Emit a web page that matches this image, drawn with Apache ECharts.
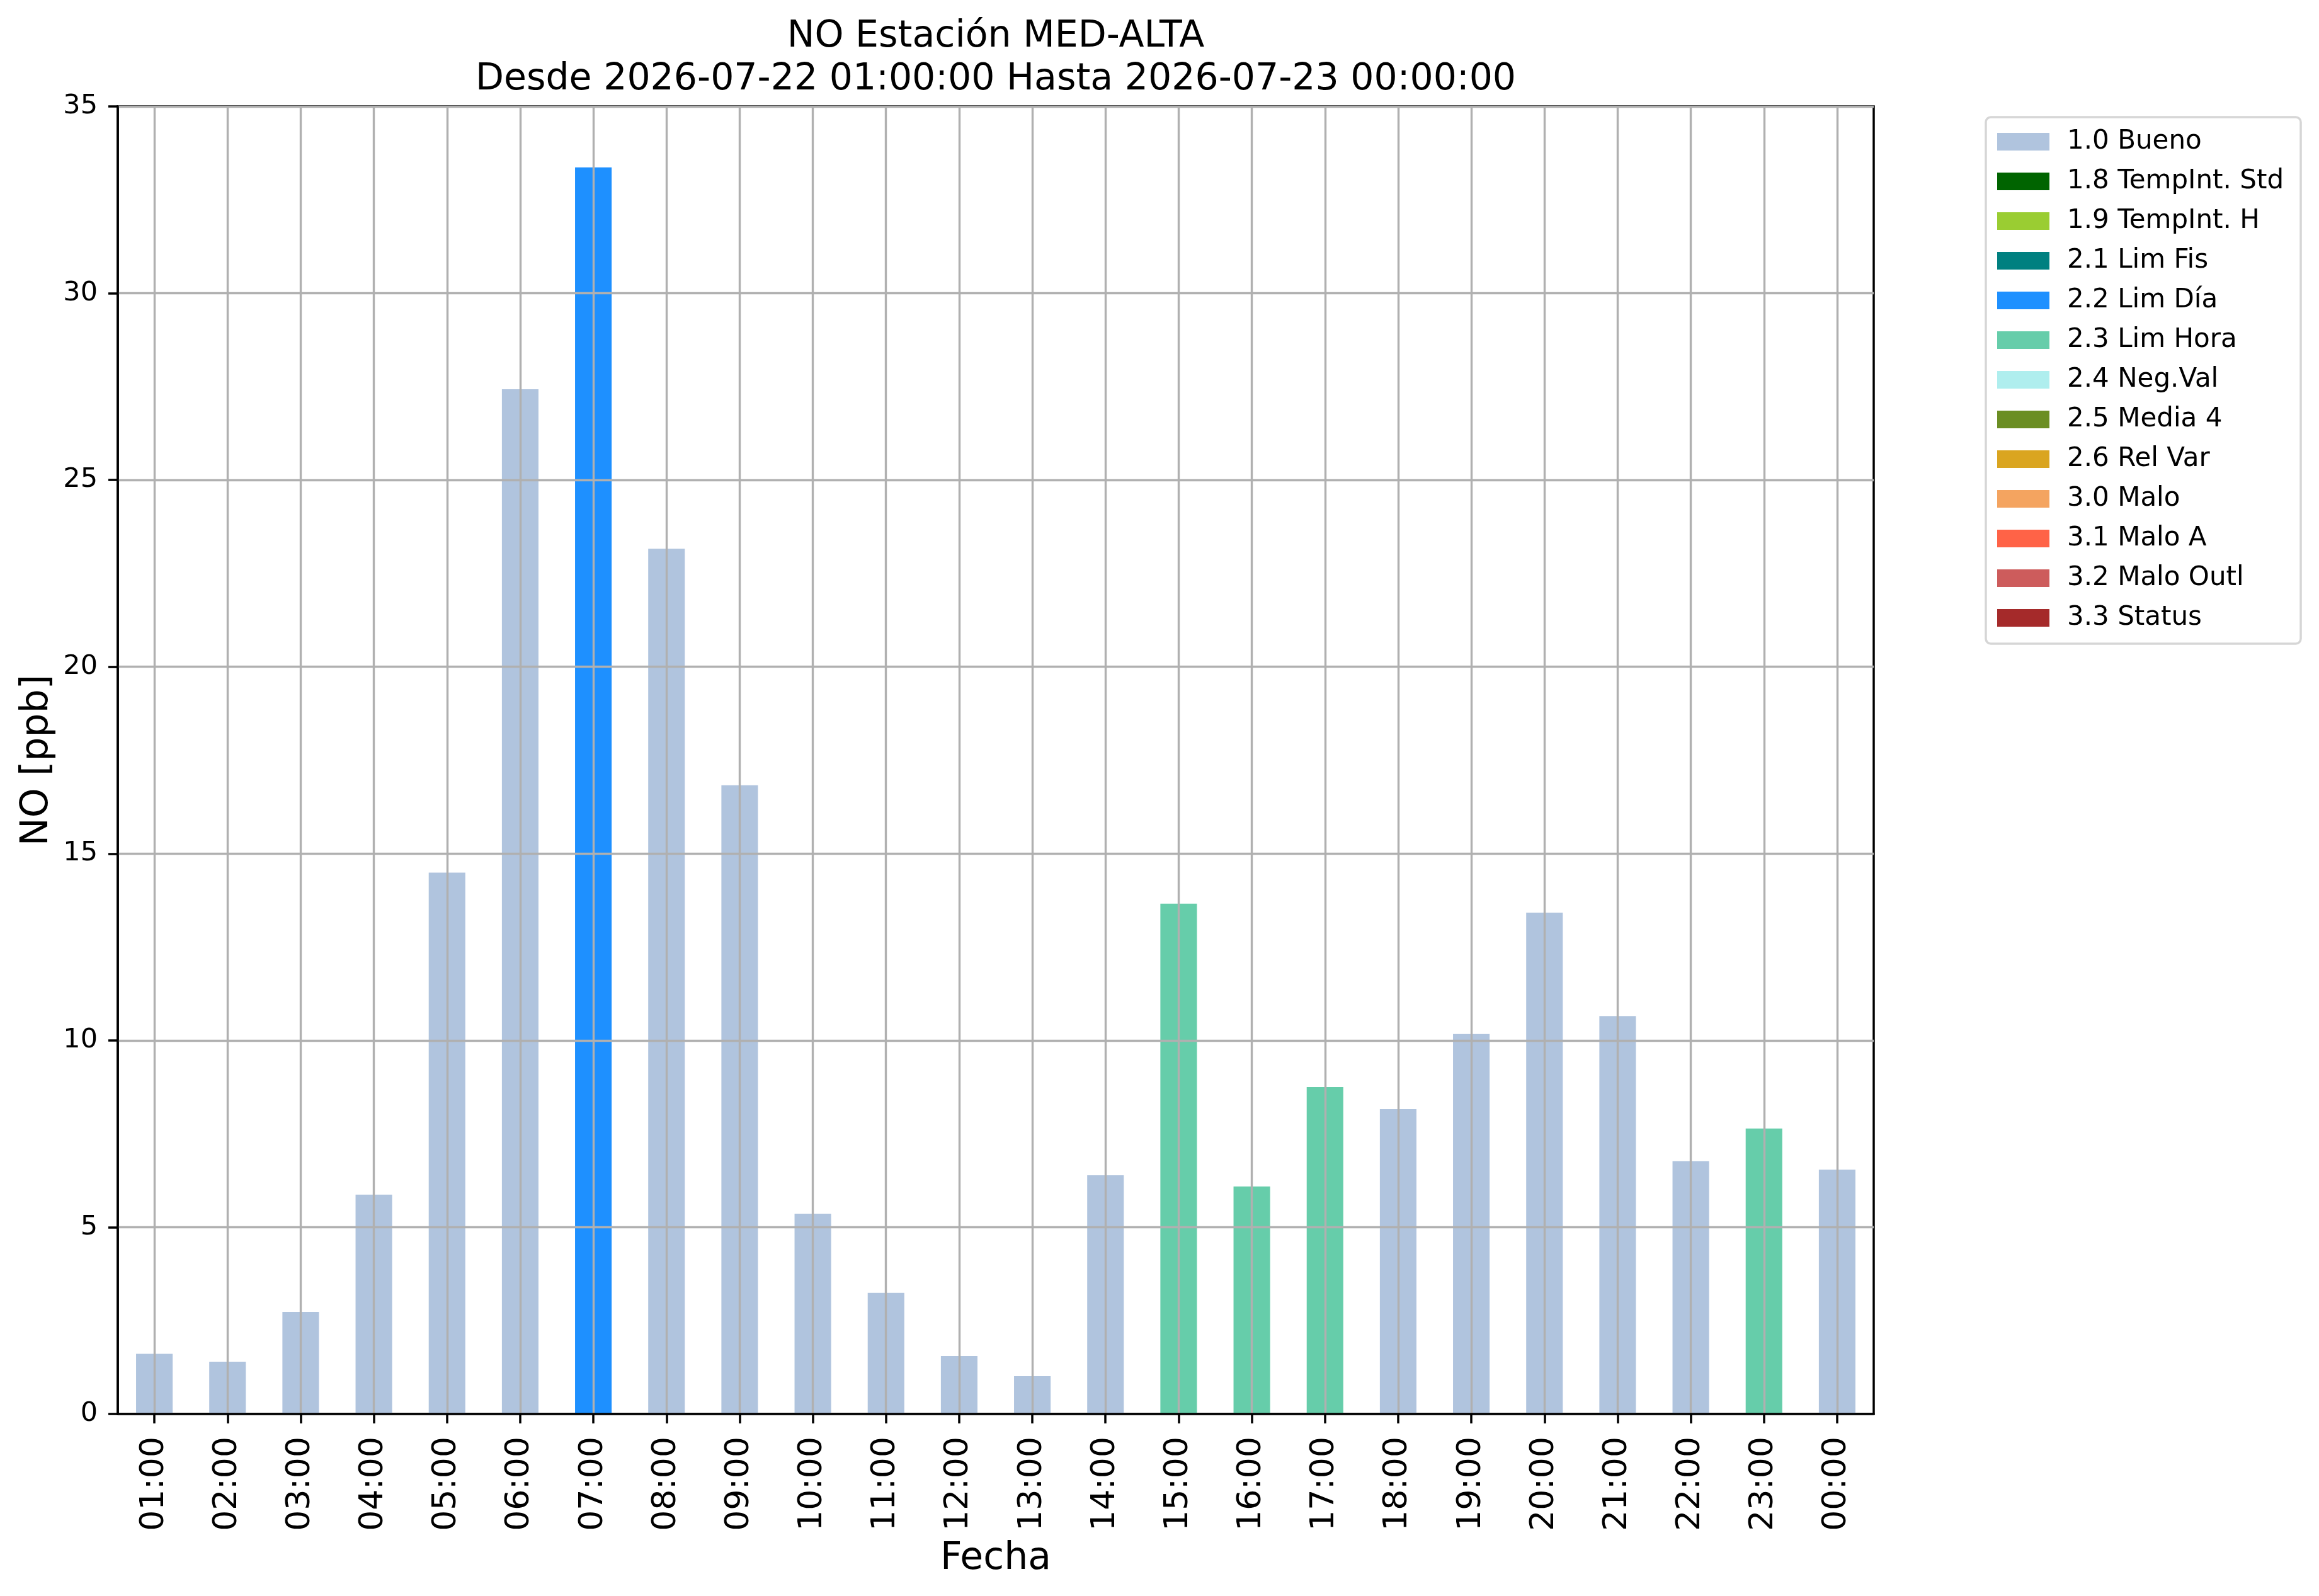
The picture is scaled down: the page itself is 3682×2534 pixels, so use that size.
<!DOCTYPE html>
<html>
<head>
<meta charset="utf-8">
<script src="https://cdn.jsdelivr.net/npm/echarts@6/dist/echarts.min.js"></script>
<style>
html,body{margin:0;padding:0;background:#fff;}
#chart{width:3682px;height:2534px;}
</style>
</head>
<body>
<div id="chart"></div>
<script>
const categories = ['01:00','02:00','03:00','04:00','05:00','06:00','07:00','08:00','09:00','10:00','11:00','12:00','13:00','14:00','15:00','16:00','17:00','18:00','19:00','20:00','21:00','22:00','23:00','00:00'];
const values = [1.61,1.40,2.73,5.87,14.49,27.43,33.37,23.16,16.83,5.36,3.24,1.55,1.01,6.39,13.66,6.09,8.75,8.16,10.17,13.42,10.65,6.77,7.64,6.54];
const flags = ['1.0 Bueno','1.0 Bueno','1.0 Bueno','1.0 Bueno','1.0 Bueno','1.0 Bueno','2.2 Lim Día','1.0 Bueno','1.0 Bueno','1.0 Bueno','1.0 Bueno','1.0 Bueno','1.0 Bueno','1.0 Bueno','2.3 Lim Hora','2.3 Lim Hora','2.3 Lim Hora','1.0 Bueno','1.0 Bueno','1.0 Bueno','1.0 Bueno','1.0 Bueno','2.3 Lim Hora','1.0 Bueno'];
const flagNames = ['1.0 Bueno','1.8 TempInt. Std','1.9 TempInt. H','2.1 Lim Fis','2.2 Lim Día','2.3 Lim Hora','2.4 Neg.Val','2.5 Media 4','2.6 Rel Var','3.0 Malo','3.1 Malo A','3.2 Malo Outl','3.3 Status'];
const flagColors = ['#B0C4DE','#006400','#9ACD32','#008080','#1E90FF','#66CDAA','#AFEEEE','#6B8E23','#DAA520','#F4A460','#FF6347','#CD5C5C','#A52A2A'];
const titleLine1 = 'NO Estación MED-ALTA';
const titleLine2 = 'Desde 2026-07-22 01:00:00 Hasta 2026-07-23 00:00:00';

const FONT = 'DejaVu Sans';
const chart = echarts.init(document.getElementById('chart'), null, {renderer:'canvas'});

const series = flagNames.map((name, k) => ({
  name: name,
  type: 'bar',
  stack: 'total',
  barWidth: '50%',
  z: 2,
  itemStyle: {color: flagColors[k]},
  emphasis: {disabled: true},
  data: values.map((v, i) => flags[i] === name ? v : null)
}));

const option = {
  backgroundColor: '#ffffff',
  animation: false,
  title: [
    {text: titleLine1, left: 1581, top: 29, textAlign: 'center', padding: 0,
     textStyle: {fontFamily: FONT, fontSize: 58.5, fontWeight: 'normal', color: '#000'}},
    {text: titleLine2, left: 1581, top: 97, textAlign: 'center', padding: 0,
     textStyle: {fontFamily: FONT, fontSize: 58.5, fontWeight: 'normal', color: '#000'}}
  ],
  grid: {left: 187, top: 169, right: 707, bottom: 289, show: true,
         borderColor: '#000', borderWidth: 3.5, backgroundColor: 'transparent'},
  legend: {
    orient: 'vertical', left: 3153, top: 186,
    padding: [18, 27, 20, 18],
    itemGap: 21, itemWidth: 83, itemHeight: 28,
    icon: 'rect',
    selectedMode: false,
    borderColor: '#d6d6d6', borderWidth: 3.5, borderRadius: 8,
    backgroundColor: 'rgba(255,255,255,0.8)',
    data: flagNames,
    textStyle: {fontFamily: FONT, fontSize: 42, color: '#000', padding: [0,0,0,23]}
  },
  xAxis: {
    type: 'category', data: categories, z: 5,
    boundaryGap: true,
    name: 'Fecha', nameLocation: 'middle', nameGap: 200,
    nameTextStyle: {fontFamily: FONT, fontSize: 60, color: '#000'},
    axisLine: {show: true, lineStyle: {color: '#000', width: 3.5}},
    axisTick: {show: true, alignWithLabel: true, length: 15, lineStyle: {color: '#000', width: 3.5}},
    axisLabel: {rotate: 90, margin: 36, fontFamily: FONT, fontSize: 52, color: '#000', interval: 0},
    splitLine: {show: true, alignWithLabel: true, lineStyle: {color: '#b0b0b0', width: 3.4}}
  },
  yAxis: {
    type: 'value', min: 0, max: 35, interval: 5, z: 5,
    name: 'NO [ppb]', nameLocation: 'middle', nameGap: 95, nameRotate: 90,
    nameTextStyle: {fontFamily: FONT, fontSize: 60, color: '#000'},
    axisLine: {show: true, lineStyle: {color: '#000', width: 3.5}},
    axisTick: {show: true, length: 15, lineStyle: {color: '#000', width: 3.5}},
    axisLabel: {margin: 32, fontFamily: FONT, fontSize: 43, color: '#000'},
    splitLine: {show: true, lineStyle: {color: '#b0b0b0', width: 3.4}}
  },
  series: series
};
chart.setOption(option);
</script>
</body>
</html>
